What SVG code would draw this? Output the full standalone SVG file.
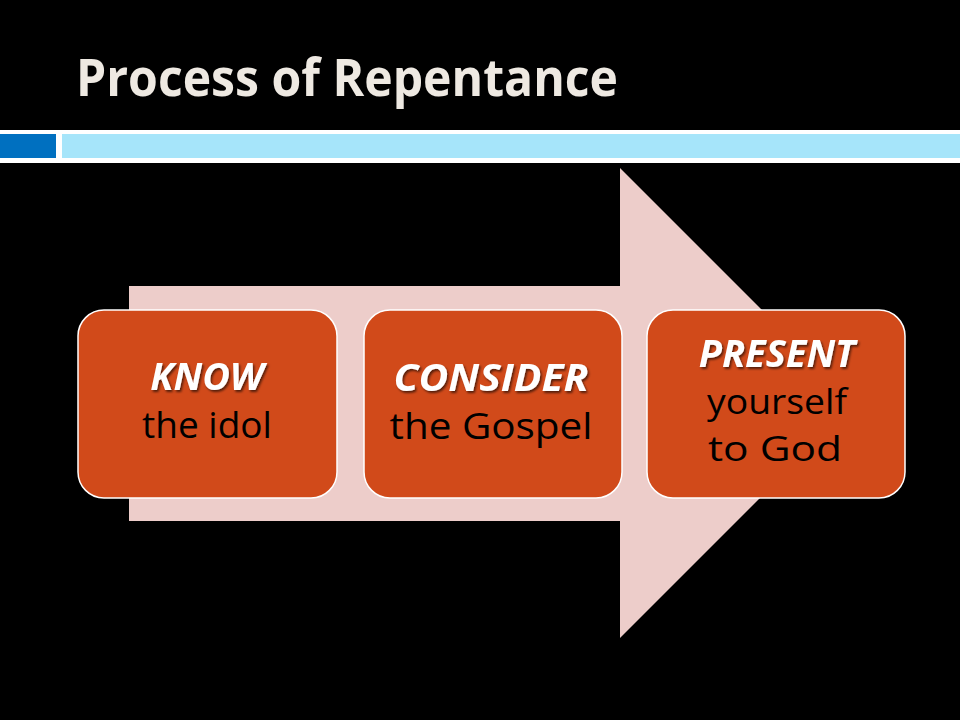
<svg xmlns="http://www.w3.org/2000/svg" width="960" height="720" viewBox="0 0 960 720">
  <defs>
    <filter id="shadow" x="-10%" y="-20%" width="130%" height="150%">
      <feDropShadow dx="1.5" dy="2" stdDeviation="1" flood-color="#000000" flood-opacity="0.6"/>
    </filter>
  </defs>
  <style>
    .title { font-family: "Open Sans", "Liberation Sans", sans-serif; font-weight: bold; font-size: 52px; fill: #EEE9E2; }
    .box { fill: #D14A1A; stroke: #FFFFFF; stroke-width: 1.5; }
    .head { font-family: "Open Sans", "Liberation Sans", sans-serif; font-weight: bold; font-style: italic; font-size: 38px; fill: #FFFFFF; text-anchor: middle; filter: url(#shadow); }
    .body { font-family: "Open Sans", "Liberation Sans", sans-serif; font-size: 37px; fill: #000000; text-anchor: middle; }
    .body-sm { font-size: 34px; }
  </style>
  <rect x="0" y="0" width="960" height="720" fill="#000000"/>

  <g id="title">
    <text class="title" x="76" y="96" textLength="542" lengthAdjust="spacingAndGlyphs">Process of Repentance</text>
  </g>

  <g id="header-bar">
    <rect x="0" y="130" width="960" height="33" fill="#FFFFFF"/>
    <rect x="0" y="134" width="56" height="24" fill="#0070C0"/>
    <rect x="62" y="134" width="898" height="24" fill="#A6E5FA"/>
  </g>

  <g id="connectors">
    <polygon id="big-arrow" points="129,286 620,286 620,168 855,403 620,638 620,521 129,521" fill="#EDCDCA"/>
  </g>

  <g id="node-know">
    <rect class="box" x="78" y="310" width="259" height="188" rx="26" ry="26"/>
    <text class="head" x="207" y="390">KNOW</text>
    <text class="body" x="207" y="438">the idol</text>
  </g>

  <g id="node-consider">
    <rect class="box" x="364" y="310" width="258" height="188" rx="26" ry="26"/>
    <text class="head" x="491" y="391" textLength="195" lengthAdjust="spacingAndGlyphs">CONSIDER</text>
    <text class="body" x="491" y="439" textLength="203" lengthAdjust="spacingAndGlyphs">the Gospel</text>
  </g>

  <g id="node-present">
    <rect class="box" x="647" y="310" width="258" height="188" rx="26" ry="26"/>
    <text class="head" x="777" y="367">PRESENT</text>
    <text class="body body-sm" x="777" y="414" textLength="140" lengthAdjust="spacingAndGlyphs">yourself</text>
    <text class="body body-sm" x="775" y="461" textLength="134" lengthAdjust="spacingAndGlyphs">to God</text>
  </g>
</svg>
